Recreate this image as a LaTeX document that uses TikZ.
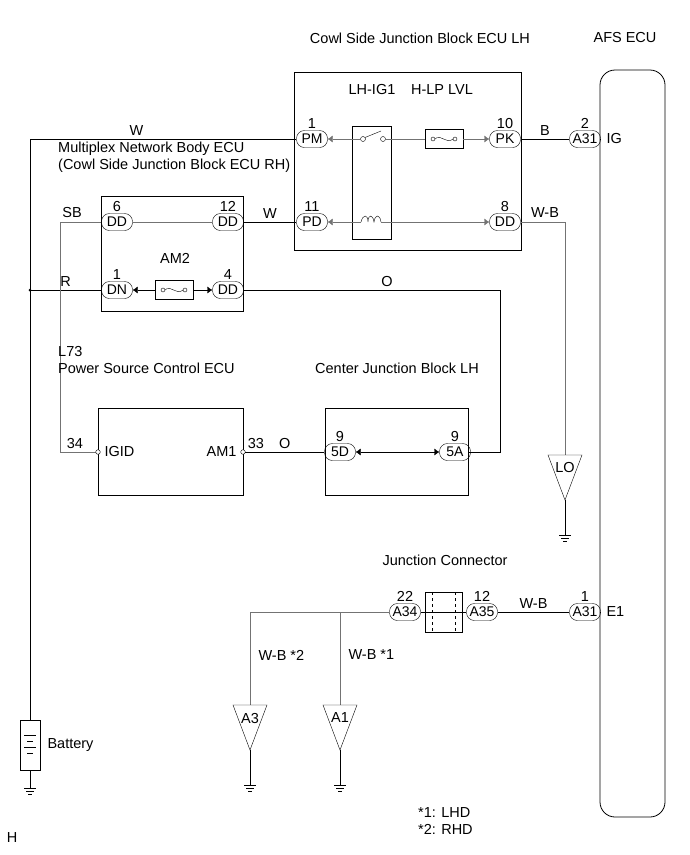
\documentclass[tikz,border=0pt]{standalone}
\usepackage{fontspec}
\setmainfont{Liberation Sans}
\usetikzlibrary{arrows.meta,shapes.geometric}
\begin{document}
\begin{tikzpicture}[x=1pt,y=-1pt,
  every node/.style={font=\fontsize{14.5}{17}\selectfont},
  pin/.style={draw,rounded corners=8pt,minimum width=31pt,minimum height=17pt,inner sep=1pt,font=\fontsize{14}{15}\selectfont},
  box/.style={draw,line width=0.8pt},
  gw/.style={draw=black!55},
  tip/.style={-{Latex[length=5pt,width=7pt]}}]
\newcommand\mytri[3]{\draw (#1-17,#2) -- (#1+17,#2) -- (#1,#2+45) -- cycle; \node at (#1,#2+13) {#3};}
\useasboundingbox (0,0) rectangle (690,855);
% titles
\node at (420,38) {Cowl Side Junction Block ECU LH};
\node at (625,38) {AFS ECU};
% AFS ECU
\draw[box,rounded corners=15pt] (600,70) rectangle (665,817);
\node[anchor=west] (ig) at (603,139) {IG};
\node[anchor=west] (e1) at (603,612) {E1};
% cowl box
\draw[box] (294,72) rectangle (521,250);
\node at (372,90) {LH-IG1};
\node at (442,90) {H-LP LVL};
\node[pin] (pm) at (312,139) {PM}; \node[above=-2pt] at (pm.north) {1};
\node[pin] (pk) at (505,139) {PK}; \node[above=-2pt] at (pk.north) {10};
\node[pin] (pd) at (312,222) {PD}; \node[above=-2pt] at (pd.north) {11};
\node[pin] (dd8) at (505,222) {DD}; \node[above=-2pt] at (dd8.north) {8};
\node[pin] (a31a) at (585,139) {A31}; \node[above=-2pt] at (a31a.north) {2};
\draw (352,126) rectangle (391,239);
\node[draw,minimum width=38pt,minimum height=19pt] (fuse1) at (444,139) {};
\draw (433,139) circle (2pt) (455,139) circle (2pt);
\draw (435,139) .. controls (441,133) and (446,145) .. (453,139);
\draw (363,139) circle (2.5pt); \draw (365,137.5) -- (381,131); \draw (383,139) circle (2.5pt);
\draw[gw,tip] (360.5,139) -- (pm.east);
\draw[gw] (385.5,139) -- (fuse1.west);
\draw[gw,tip] (fuse1.east) -- (pk.west);
\draw (361,222) .. controls (363,214) and (368,214) .. (368,222) .. controls (368,214) and (373,214) .. (374,222) .. controls (375,214) and (380,214) .. (381,222);
\draw[gw,tip] (361,222) -- (pd.east);
\draw[gw,tip] (381,222) -- (dd8.west);
\draw (pk.east) -- node[above] {B} (a31a.west);
\draw (a31a.east) -- (600,139);
% W line / battery
\draw (pm.west) -- node[above,pos=0.6] {W} (30,139) -- (30,720);
\node[draw,minimum width=20pt,minimum height=50pt,anchor=north] (bat) at (30,720) {};
\draw (24,735)--(36,735) (27,741)--(33,741) (24,747)--(36,747) (27,753)--(33,753);
\node[anchor=west] at (44,745) {Battery};
\draw (bat.south) -- (30,788) (24,788)--(36,788) (26,791)--(34,791) (28,794)--(32,794);
\node[anchor=west,align=left,inner sep=0pt] at (58,157) {Multiplex Network Body ECU\\(Cowl Side Junction Block ECU RH)};
% multiplex box
\draw[box] (101,196) rectangle (243,311);
\node at (175,258) {AM2};
\node[pin] (dd6) at (117,222) {DD}; \node[above=-2pt] at (dd6.north) {6};
\node[pin] (dd12) at (228,222) {DD}; \node[above=-2pt] at (dd12.north) {12};
\node[pin] (dn1) at (117,290) {DN}; \node[above=-2pt] at (dn1.north) {1};
\node[pin] (dd4) at (228,290) {DD}; \node[above=-2pt] at (dd4.north) {4};
\draw[gw] (dd6.east) -- (dd12.west);
\node[draw,minimum width=38pt,minimum height=19pt] (fuse2) at (174,290) {};
\draw (163,290) circle (2pt) (185,290) circle (2pt);
\draw (165,290) .. controls (171,284) and (176,296) .. (183,290);
\draw[tip] (fuse2.west) -- (dn1.east);
\draw[tip] (fuse2.east) -- (dd4.west);
\draw (dd12.east) -- node[above] {W} (pd.west);
\draw (30,290) -- node[above] {R} (dn1.west);
\fill (30,290) circle (1.5pt);
\draw[gw] (dd6.west) -- (60,222) -- (60,452) -- (96,452);
\node at (72,213) {SB};
\draw (dd4.east) -- (500,290) -- (500,452) -- (468,452);
\node at (387,282) {O};
% W-B to LO
\draw[gw] (dd8.east) -- (565,222) -- (565,455);
\node at (545,213) {W-B};
\mytri{565}{455}{LO}
\draw (565,500) -- (565,535) (559,535)--(571,535) (561,538)--(569,538) (563,541)--(567,541);
% L73
\node[anchor=west,align=left,inner sep=0pt] at (58,360) {L73\\Power Source Control ECU};
\draw[box] (98,408) rectangle (243,495);
\draw[fill=white] (98,452) circle (2.3pt); \draw[fill=white] (243,452) circle (2.3pt);
\node[anchor=west] at (101,452) {IGID};
\node[anchor=east] at (240,452) {AM1};
\node at (75,444) {34};
\node at (256,444) {33};
% Center JB
\node at (397,368) {Center Junction Block LH};
\draw[box] (325,408) rectangle (468,495);
\node[pin] (d5) at (340,452) {5D}; \node[above=-2pt] at (d5.north) {9};
\node[pin] (a5) at (455,452) {5A}; \node[above=-2pt] at (a5.north) {9};
\draw[{Latex[length=5pt,width=7pt]}-{Latex[length=5pt,width=7pt]}] (d5.east) -- (a5.west);
\draw (245.3,452) -- node[above] {O} (d5.west);
\draw (a5.east) -- (468,452);
% junction connector
\node at (445,560) {Junction Connector};
\draw (425,592) rectangle (462,632);
\draw[dashed] (432,592) -- (432,632) (455,592) -- (455,632);
\node[pin] (a34) at (405,612) {A34}; \node[above=-2pt] at (a34.north) {22};
\node[pin] (a35) at (482,612) {A35}; \node[above=-2pt] at (a35.north) {12};
\node[pin] (a31b) at (585,612) {A31}; \node[above=-2pt] at (a31b.north) {1};
\draw (a34.east) -- (a35.west);
\draw (a35.east) -- node[above] {W-B} (a31b.west);
\draw (a31b.east) -- (600,612);
\draw[gw] (a34.west) -- (250,612) -- (250,705);
\draw[gw] (340,612) -- (340,705);
\node[anchor=west] at (255,655) {W-B *2};
\node[anchor=west] at (345,655) {W-B *1};
\mytri{250}{705}{A3}
\mytri{340}{705}{A1}
\draw (250,750) -- (250,785) (244,785)--(256,785) (246,788)--(254,788) (248,791)--(252,791);
\draw (340,750) -- (340,785) (334,785)--(346,785) (336,788)--(344,788) (338,791)--(342,791);
\node[anchor=west,align=left,inner sep=0pt] at (418,821) {*1: LHD\\*2: RHD};
\node at (12,838) {H};
\end{tikzpicture}
\end{document}
